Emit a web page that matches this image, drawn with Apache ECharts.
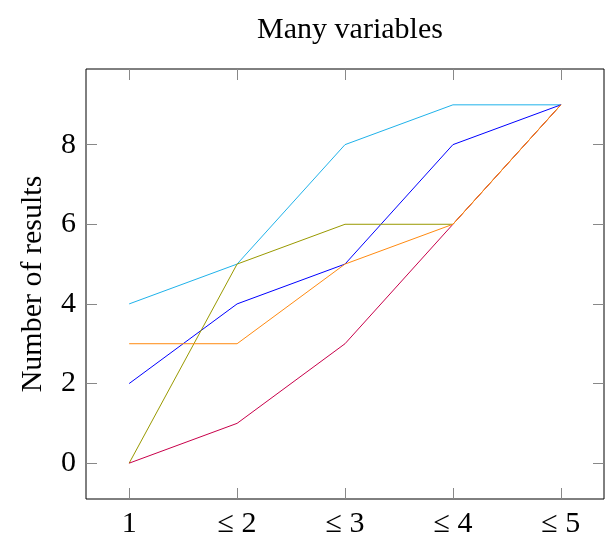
<!DOCTYPE html>
<html>
<head>
<meta charset="utf-8">
<script src="https://cdn.jsdelivr.net/npm/echarts@6/dist/echarts.min.js"></script>
<style>
  html, body { margin: 0; padding: 0; background: #fff; }
  #chart { width: 613px; height: 541px; }
</style>
</head>
<body>
<div id="chart"></div>
<script>
// categories along x, values per line
var categories = ['1', '\u2264 2', '\u2264 3', '\u2264 4', '\u2264 5'];
var yTicks = [0, 2, 4, 6, 8];

var cyanLine   = [4, 5, 8, 9, 9];
var blueLine   = [2, 4, 5, 8, 9];
var oliveLine  = [0, 5, 6, 6, 9];
var purpleLine = [0, 1, 3, 6, 9];
var orangeLine = [3, 3, 5, 6, 9];

var font = 'Liberation Serif';

function pairs(vals) {
  var out = [];
  for (var i = 0; i < vals.length; i++) out.push([i, vals[i]]);
  return out;
}
function line(name, vals, color) {
  return {
    name: name, type: 'line', data: pairs(vals),
    symbol: 'none', animation: false,
    lineStyle: { color: color, width: 1 }
  };
}

var xIdx = categories.map(function (c, i) { return i; });
function ticks(vals) {
  return { show: true, inside: true, length: 11, customValues: vals,
           lineStyle: { color: '#888', width: 1 } };
}
var noLine = { show: false, onZero: false };

var chart = echarts.init(document.getElementById('chart'));
chart.setOption({
  backgroundColor: '#fff',
  title: {
    text: 'Many variables', left: 345, top: 10, textAlign: 'center',
    textStyle: { fontFamily: font, fontWeight: 'normal', fontSize: 30, color: '#000' }
  },
  grid: { left: 86, right: 9, top: 69, bottom: 42, show: true, borderColor: '#000', borderWidth: 1 },
  xAxis: [{
    type: 'value', min: -0.4, max: 4.4,
    axisLine: noLine, axisTick: ticks(xIdx), splitLine: { show: false },
    axisLabel: {
      customValues: xIdx, margin: 10,
      fontFamily: font, fontSize: 30, color: '#000',
      formatter: function (v) { return categories[Math.round(v)]; }
    }
  }, {
    type: 'value', position: 'top', min: -0.4, max: 4.4,
    axisLine: noLine, axisTick: ticks(xIdx), splitLine: { show: false },
    axisLabel: { show: false }
  }],
  yAxis: [{
    type: 'value', min: -0.9, max: 9.9,
    name: 'Number of results', nameLocation: 'middle', nameGap: 38,
    nameTextStyle: { fontFamily: font, fontSize: 30, color: '#000' },
    axisLine: noLine, axisTick: ticks(yTicks), splitLine: { show: false },
    axisLabel: { customValues: yTicks, margin: 10, fontFamily: font, fontSize: 30, color: '#000' }
  }, {
    type: 'value', position: 'right', min: -0.9, max: 9.9,
    axisLine: noLine, axisTick: ticks(yTicks), splitLine: { show: false },
    axisLabel: { show: false }
  }],
  series: [
    line('cyan', cyanLine, '#1fb2ea'),
    line('blue', blueLine, '#0000ff'),
    line('olive', oliveLine, '#999900'),
    line('purple', purpleLine, '#c8004a'),
    line('orange', orangeLine, '#ff8a10')
  ]
});
</script>
</body>
</html>
